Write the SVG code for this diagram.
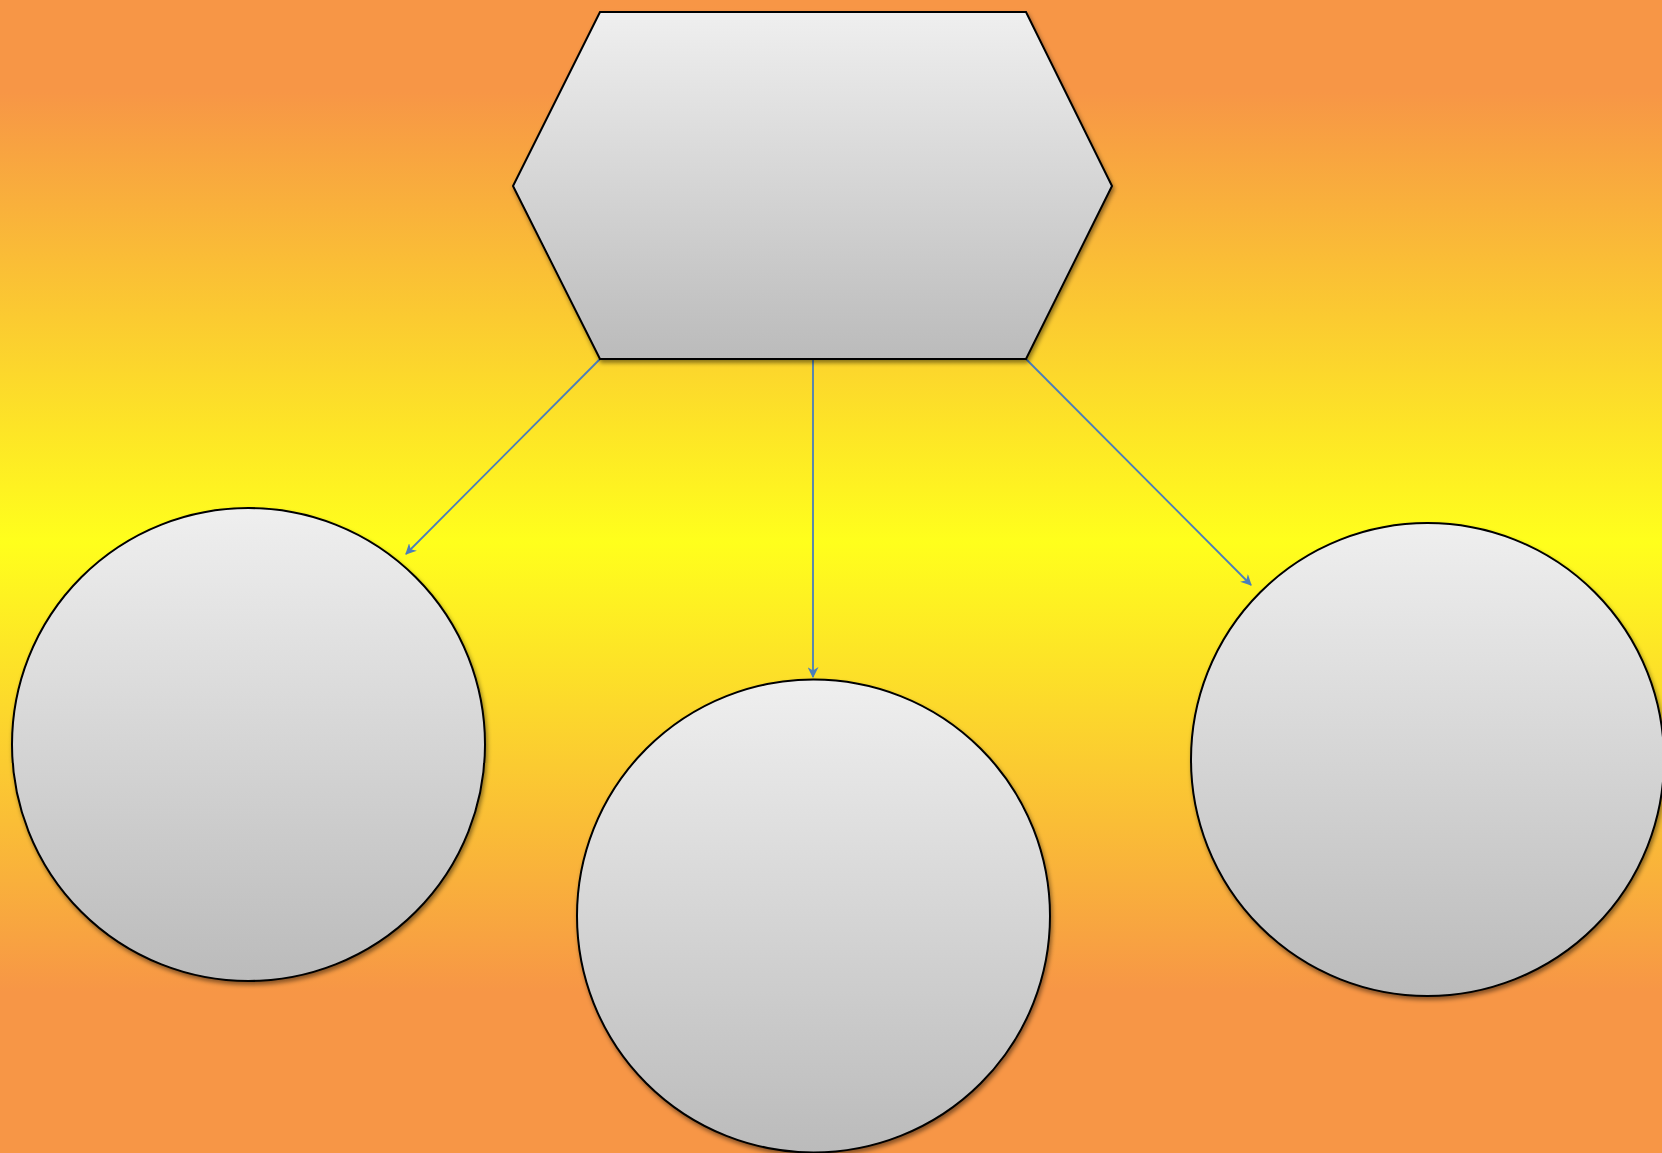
<svg xmlns="http://www.w3.org/2000/svg" width="1662" height="1153" viewBox="0 0 1662 1153">
  <style>
    .node { fill: url(#nodeFill); stroke: #000; stroke-width: 2; filter: url(#shadow); }
    .edge { fill: none; stroke: #4a7ebb; stroke-width: 1.8; marker-end: url(#arrow); }
  </style>
  <defs>
    <linearGradient id="bg" x1="0" y1="0" x2="0" y2="1">
      <stop offset="0" stop-color="#f79646"/>
      <stop offset="0.08" stop-color="#f79646"/>
      <stop offset="0.47" stop-color="#ffff1c"/>
      <stop offset="0.86" stop-color="#f79646"/>
      <stop offset="1" stop-color="#f79646"/>
    </linearGradient>
    <linearGradient id="nodeFill" x1="0" y1="0" x2="0" y2="1">
      <stop offset="0" stop-color="#efefef"/>
      <stop offset="1" stop-color="#bbbbbb"/>
    </linearGradient>
    <filter id="shadow" x="-10%" y="-10%" width="120%" height="120%">
      <feDropShadow dx="1.5" dy="3" stdDeviation="2" flood-color="#000" flood-opacity="0.45"/>
    </filter>
    <marker id="arrow" viewBox="0 0 10 10" refX="9" refY="5" markerWidth="11" markerHeight="11" markerUnits="userSpaceOnUse" orient="auto">
      <path d="M0,0 L10,5 L0,10 L3,5 Z" fill="#4a7ebb"/>
    </marker>
  </defs>
  <rect x="0" y="0" width="1662" height="1153" fill="url(#bg)"/>

  <g id="connectors">
    <line class="edge" x1="600" y1="359" x2="406" y2="554"/>
    <line class="edge" x1="813" y1="359" x2="813" y2="677"/>
    <line class="edge" x1="1026" y1="359" x2="1251" y2="585"/>
  </g>

  <g id="node-top">
    <polygon class="node" points="600,12 1026,12 1112,186 1026,359 600,359 513,186"/>
  </g>
  <g id="node-left">
    <circle class="node" cx="248.5" cy="744.5" r="236.5"/>
  </g>
  <g id="node-middle">
    <circle class="node" cx="813.5" cy="916" r="236.5"/>
  </g>
  <g id="node-right">
    <circle class="node" cx="1427.5" cy="759.5" r="236.5"/>
  </g>
</svg>
